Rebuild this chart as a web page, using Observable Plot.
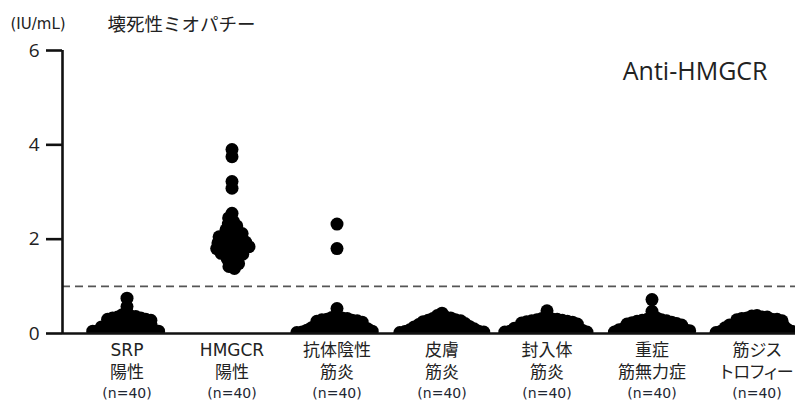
<!DOCTYPE html>
<html><head><meta charset="utf-8">
<script src="https://cdn.jsdelivr.net/npm/d3@7"></script>
<script src="https://cdn.jsdelivr.net/npm/@observablehq/plot@0.6"></script>
<style>
html,body{margin:0;padding:0;background:#fff;}
#wrap{position:relative;width:795px;height:404px;overflow:hidden;}
#wrap svg{position:absolute;left:0;top:0;}
</style>
</head><body><div id="wrap"></div>
<script>
const categories = ["SRP陽性","HMGCR陽性","抗体陰性筋炎","皮膚筋炎","封入体筋炎","重症筋無力症","筋ジストロフィー"];
const labelLine1 = ["SRP","HMGCR","抗体陰性","皮膚","封入体","重症","筋ジス"];
const labelLine2 = ["陽性","陽性","筋炎","筋炎","筋炎","筋無力症","トロフィー"];
const labelN = ["(n=40)","(n=40)","(n=40)","(n=40)","(n=40)","(n=40)","(n=40)"];
const yTicks = [0, 2, 4, 6];
const cutoff = [1];
const unitLabel = "(IU/mL)";
const titleText = "壊死性ミオパチー";
const panelLabel = "Anti-HMGCR";

const srp = [0.75,0.57,0.45,0.4,0.37,0.36,0.35,0.33,0.33,0.31,0.3,0.3,0.28,0.27,0.26,0.24,0.24,0.22,0.21,0.2,0.19,0.18,0.17,0.15,0.15,0.14,0.12,0.12,0.11,0.1,0.09,0.08,0.07,0.07,0.06,0.05,0.05,0.04,0.03,0.02];
const hmgcr = [3.9,3.75,3.22,3.08,2.55,2.45,2.38,2.32,2.28,2.22,2.2,2.15,2.12,2.1,2.08,2.05,2.02,2.0,1.98,1.96,1.94,1.92,1.9,1.88,1.86,1.84,1.82,1.8,1.78,1.75,1.72,1.7,1.68,1.65,1.6,1.58,1.52,1.48,1.42,1.38];
const negative = [2.32,1.8,0.53,0.36,0.34,0.33,0.32,0.3,0.29,0.28,0.27,0.26,0.25,0.24,0.22,0.21,0.2,0.19,0.18,0.17,0.16,0.15,0.14,0.13,0.12,0.11,0.1,0.1,0.09,0.08,0.07,0.07,0.06,0.05,0.05,0.04,0.03,0.03,0.02,0.02];
const dm = [0.43,0.38,0.35,0.33,0.32,0.3,0.29,0.28,0.27,0.25,0.24,0.23,0.22,0.21,0.2,0.19,0.18,0.17,0.16,0.15,0.14,0.14,0.13,0.12,0.11,0.1,0.1,0.09,0.08,0.08,0.07,0.06,0.06,0.05,0.04,0.04,0.03,0.03,0.02,0.02];
const ibm = [0.48,0.34,0.32,0.31,0.3,0.29,0.28,0.27,0.26,0.25,0.24,0.23,0.22,0.21,0.2,0.2,0.19,0.18,0.17,0.16,0.15,0.14,0.13,0.12,0.12,0.11,0.1,0.09,0.09,0.08,0.07,0.07,0.06,0.05,0.05,0.04,0.04,0.03,0.03,0.02];
const mg = [0.72,0.47,0.36,0.33,0.3,0.29,0.28,0.27,0.26,0.25,0.24,0.23,0.22,0.21,0.2,0.19,0.18,0.18,0.17,0.16,0.15,0.14,0.13,0.12,0.11,0.11,0.1,0.09,0.08,0.08,0.07,0.06,0.06,0.05,0.04,0.04,0.03,0.03,0.02,0.02];
const md = [0.38,0.37,0.35,0.35,0.33,0.32,0.3,0.3,0.29,0.27,0.27,0.25,0.24,0.24,0.22,0.21,0.2,0.19,0.18,0.17,0.16,0.15,0.14,0.14,0.12,0.12,0.11,0.1,0.09,0.08,0.08,0.07,0.06,0.05,0.05,0.04,0.04,0.03,0.02,0.02];
const series = [srp, hmgcr, negative, dm, ibm, mg, md];

const rows = categories.flatMap((c, i) => series[i].map(v => ({category: c, value: v})));
const spreadRows = rows.filter(d => d.category === "HMGCR陽性");
const lowRows = rows.filter(d => d.category !== "HMGCR陽性");
const labels = categories.map((c, i) => ({category: c, l1: labelLine1[i], l2: labelLine2[i], n: labelN[i]}));

const FONT = "'Open Sans','Noto Sans CJK JP',sans-serif";
const LFONT = "'DejaVu Sans','Noto Sans CJK JP',sans-serif";
const TXT = "#222";

const swarm = Plot.plot({
  width: 795, height: 404,
  marginTop: 50, marginBottom: 71, marginLeft: 74, marginRight: -14,
  style: {fontFamily: LFONT, background: "white", overflow: "visible", fontFeatureSettings: "'palt'"},
  fx: {domain: categories, padding: 0, axis: null},
  y: {domain: [0, 6], axis: null},
  marks: [
    Plot.dot(lowRows, Plot.dodgeX({anchor: "middle", padding: 0, r: 2.6}, {fx: "category", y: "value", r: 6.5, fill: "black", clip: true})),
    Plot.dot(spreadRows, Plot.dodgeX({anchor: "middle", padding: 0, r: 2.9}, {fx: "category", y: "value", r: 6.5, fill: "black", clip: true})),
    Plot.text(labels, {fx: "category", text: "l1", frameAnchor: "bottom", dy: 22, fontSize: 17, fill: TXT}),
    Plot.text(labels, {fx: "category", text: "l2", frameAnchor: "bottom", dy: 44, fontSize: 17, fill: TXT}),
    Plot.text(labels, {fx: "category", text: "n", frameAnchor: "bottom", dy: 64, fontSize: 14, fill: "#1e2633"})
  ]
});

const axes = Plot.plot({
  width: 795, height: 404,
  marginTop: 50, marginBottom: 71, marginLeft: 62, marginRight: 0,
  style: {fontFamily: FONT, background: "transparent", color: TXT},
  x: {domain: [0, 1], axis: null},
  y: {domain: [0, 6], axis: null},
  marks: [
    Plot.ruleY(cutoff, {stroke: "#555", strokeWidth: 1.8, strokeDasharray: "8,5"}),
    Plot.ruleX([0], {stroke: "#111", strokeWidth: 2.6}),
    Plot.ruleY([0], {stroke: "#111", strokeWidth: 2.6}),
    Plot.ruleY(yTicks, {x1: 0, x2: 0, insetLeft: -16, stroke: "#111", strokeWidth: 2.6}),
    Plot.text(yTicks, {y: d => d, x: 0, text: d => String(d), dx: -23, textAnchor: "end", fontSize: 19, fill: TXT}),
    Plot.text([unitLabel], {frameAnchor: "top-left", dx: -52, dy: -32, textAnchor: "start", fontSize: 15, fontFamily: LFONT, fill: TXT}),
    Plot.text([titleText], {frameAnchor: "top-left", dx: 45, dy: -33, textAnchor: "start", fontSize: 18.5, fill: TXT}),
    Plot.text([panelLabel], {frameAnchor: "top-right", dx: -28, dy: 12, textAnchor: "end", fontSize: 25, fill: TXT})
  ]
});

const wrap = document.getElementById("wrap");
wrap.appendChild(swarm);
wrap.appendChild(axes);
</script>
</body></html>
